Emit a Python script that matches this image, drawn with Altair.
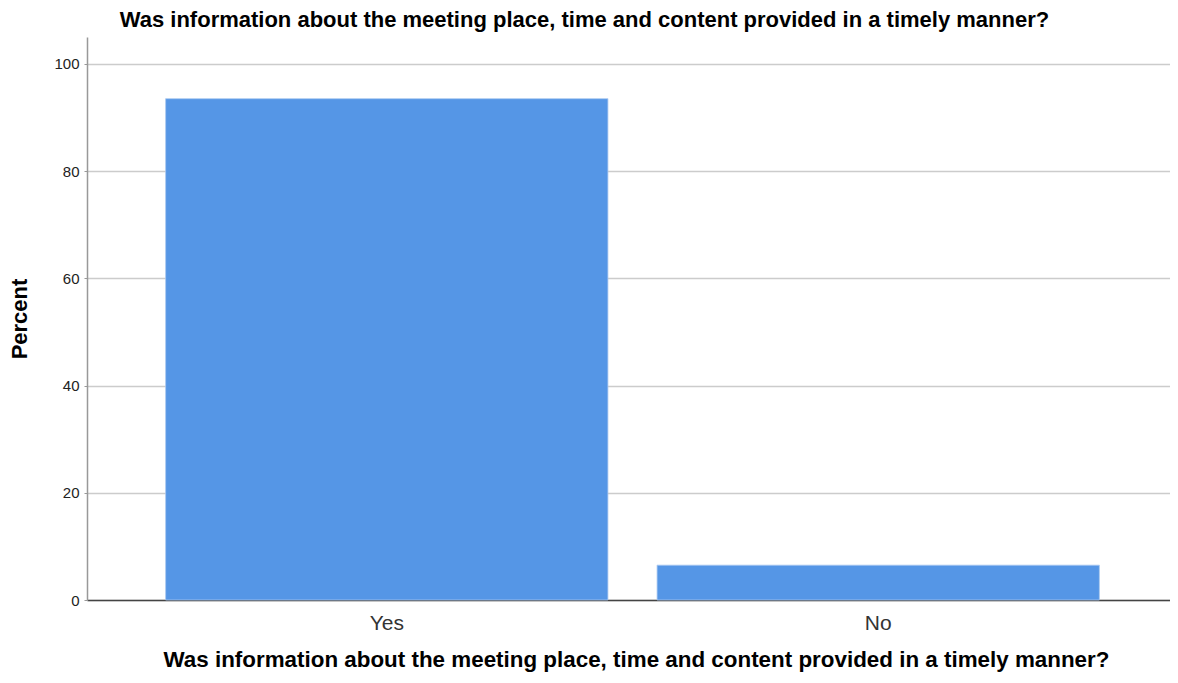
import altair as alt
import pandas as pd

categories = ["Yes", "No"]
percents = [93.5, 6.5]
question = "Was information about the meeting place, time and content provided in a timely manner?"

df = pd.DataFrame({"answer": categories, "percent": percents})

FONT = "Liberation Sans"

chart = (
    alt.Chart(df)
    .mark_bar(color="#5596e6", stroke="#a9c8f0", strokeWidth=0.8)
    .encode(
        x=alt.X(
            "answer:N",
            sort=categories,
            title=question,
            scale=alt.Scale(paddingInner=0.1, paddingOuter=0.16, range=[0, 1091]),
            axis=alt.Axis(
                labelAngle=0,
                labelFontSize=21,
                labelColor="#333333",
                labelFont=FONT,
                labelPadding=12,
                ticks=False,
                domainColor="#444444",
                domainWidth=1.5,
                titleFont=FONT,
                titleFontSize=22.4,
                titleFontWeight="bold",
                titleColor="#000000",
                titlePadding=15,
                titleX=549,
            ),
        ),
        y=alt.Y(
            "percent:Q",
            title="Percent",
            scale=alt.Scale(domain=[0, 105], nice=False),
            axis=alt.Axis(
                values=[0, 20, 40, 60, 80, 100],
                labelFontSize=15,
                labelFont=FONT,
                labelColor="#222222",
                tickSize=3,
                tickColor="#999999",
                labelPadding=5,
                domainColor="#999999",
                domainWidth=1.5,
                gridColor="#cccccc",
                gridWidth=1.5,
                titleFont=FONT,
                titleFontSize=22,
                titleFontWeight="bold",
                titleColor="#000000",
                titlePadding=22,
            ),
        ),
    )
    .properties(
        width=1083,
        height=563,
        title=alt.TitleParams(
            question,
            font=FONT,
            fontSize=22,
            fontWeight="bold",
            color="#000000",
            anchor="middle",
            dx=-44,
            offset=5,
        ),
        autosize=alt.AutoSizeParams(type="none"),
        padding={"left": 79, "top": 29, "right": 0, "bottom": 75},
    )
    .configure_view(stroke=None)
    .configure_axis(grid=True)
    .configure_axisX(grid=False)
)

chart.save("out.html", embed_options={"renderer": "svg", "actions": False})
